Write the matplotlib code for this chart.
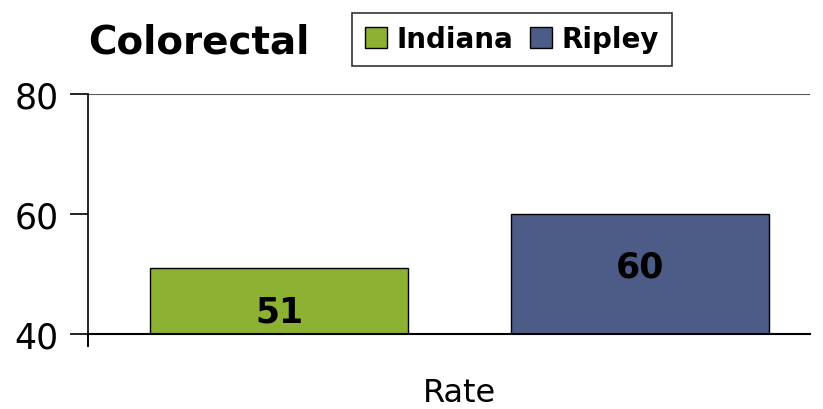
import matplotlib.pyplot as plt
from matplotlib.patches import Patch

# Colorectal rate chart: Indiana vs Ripley
series = ['Indiana', 'Ripley']
values = [51, 60]
colors = ['#8DB133', '#4D5C87']
category = 'Rate'
yticks = [40, 60, 80]

plt.rcParams['font.family'] = ['DejaVu Sans']

fig = plt.figure(figsize=(8.23, 4.10), dpi=100)
ax = fig.add_axes([88 / 823, 1 - 335 / 410, (810 - 88) / 823, (335 - 95) / 410])

offsets = [-0.25, 0.25]
label_y = [43.7, 51.3]  # where the value labels sit
width = 0.357
for off, val, col, ly in zip(offsets, values, colors, label_y):
    ax.bar(0.515 + off, val - 40, width, bottom=40, color=col,
           edgecolor='black', linewidth=1, zorder=3)
    ax.text(0.515 + off, ly, f'{val}', ha='center', va='center',
            fontsize=25, fontweight='bold', color='black', zorder=4)

ax.set_xlim(0, 1)
ax.set_ylim(40, 80)
ax.set_yticks(yticks)
ax.set_yticklabels([str(t) for t in yticks], fontsize=25)
ax.tick_params(axis='y', direction='out', length=13, width=1.2, pad=8, colors='black')
ax.set_xticks([])

ax.axhline(80, color='#555555', linewidth=1.5, zorder=1)
ax.axhline(40, color='black', linewidth=1.5, zorder=5, clip_on=False)
for s in ['top', 'right', 'bottom']:
    ax.spines[s].set_visible(False)
ax.spines['left'].set_linewidth(1.2)
ax.spines['left'].set_bounds(38, 80)
ax.plot([0, 0], [40, 38], color='black', linewidth=1.2, clip_on=False)

ax.set_xlabel(category, fontsize=23, labelpad=31)
ax.xaxis.label.set_x(0.515)

fig.text(88 / 823, 1 - 42 / 410, 'Colorectal', fontsize=28, fontweight='bold',
         ha='left', va='center')

handles = [Patch(facecolor=c, edgecolor='black', label=s) for s, c in zip(series, colors)]
leg = fig.legend(handles=handles, loc='center', bbox_to_anchor=(512 / 823, 1 - 40.5 / 410),
                 ncol=2, frameon=True, fancybox=False,
                 prop={'weight': 'bold', 'size': 20}, handlelength=0.8, handleheight=0.8,
                 handletextpad=0.35, columnspacing=0.6, borderpad=0.45, borderaxespad=0)
leg.get_frame().set_edgecolor('black')
leg.get_frame().set_linewidth(1.2)

fig.savefig('out.png', dpi=100)
